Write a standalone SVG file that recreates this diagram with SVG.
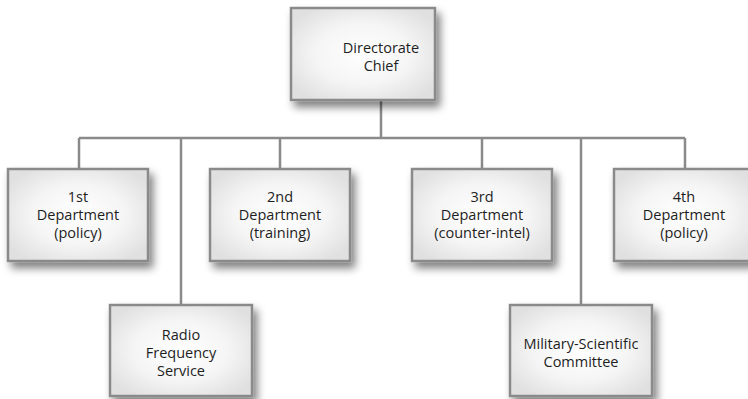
<svg xmlns="http://www.w3.org/2000/svg" width="748" height="399" viewBox="0 0 748 399">
<defs>
<radialGradient id="g" cx="50%" cy="50%" r="60%">
<stop offset="0" stop-color="#ffffff"/>
<stop offset="0.55" stop-color="#f5f5f5"/>
<stop offset="1" stop-color="#e0e0e0"/>
</radialGradient>
<filter id="sh" x="-20%" y="-20%" width="150%" height="150%">
<feGaussianBlur in="SourceAlpha" stdDeviation="4"/>
<feOffset dx="4" dy="6" result="b"/>
<feComponentTransfer><feFuncA type="linear" slope="0.5"/></feComponentTransfer>
<feMerge><feMergeNode/><feMergeNode in="SourceGraphic"/></feMerge>
</filter>
</defs>
<style>
.box{fill:url(#g);stroke:#8a8a8a;stroke-width:2.5;filter:url(#sh)}
.t{font-family:"Open Sans","Liberation Sans",sans-serif;font-size:14.5px;fill:#1e1e1e;text-anchor:middle}
.c{fill:none;stroke:#8a8a8a;stroke-width:2.5}
</style>
<rect width="748" height="399" fill="#ffffff"/>
<g id="connectors">
<path class="c" d="M381,100 V138 M79,138 H685 M79,138 V169 M181,138 V305 M280,138 V169 M482,138 V169 M581,138 V305 M685,138 V169"/>
</g>
<g id="chief">
<rect class="box" x="291" y="8" width="144" height="92"/>
<text class="t" x="381" y="53">Directorate</text>
<text class="t" x="381" y="71">Chief</text>
</g>
<g id="dept1">
<rect class="box" x="8" y="169" width="140" height="92"/>
<text class="t" x="78" y="202">1st</text>
<text class="t" x="78" y="220">Department</text>
<text class="t" x="78" y="238">(policy)</text>
</g>
<g id="dept2">
<rect class="box" x="210" y="169" width="140" height="92"/>
<text class="t" x="280" y="202">2nd</text>
<text class="t" x="280" y="220">Department</text>
<text class="t" x="280" y="238">(training)</text>
</g>
<g id="dept3">
<rect class="box" x="412" y="169" width="140" height="92"/>
<text class="t" x="482" y="202">3rd</text>
<text class="t" x="482" y="220">Department</text>
<text class="t" x="482" y="238">(counter-intel)</text>
</g>
<g id="dept4">
<rect class="box" x="614" y="169" width="140" height="92"/>
<text class="t" x="684" y="202">4th</text>
<text class="t" x="684" y="220">Department</text>
<text class="t" x="684" y="238">(policy)</text>
</g>
<g id="radio">
<rect class="box" x="110" y="305" width="142" height="91"/>
<text class="t" x="181" y="340">Radio</text>
<text class="t" x="181" y="358">Frequency</text>
<text class="t" x="181" y="376">Service</text>
</g>
<g id="msc">
<rect class="box" x="510" y="305" width="142" height="91"/>
<text class="t" x="581" y="349">Military-Scientific</text>
<text class="t" x="581" y="367">Committee</text>
</g>
</svg>
